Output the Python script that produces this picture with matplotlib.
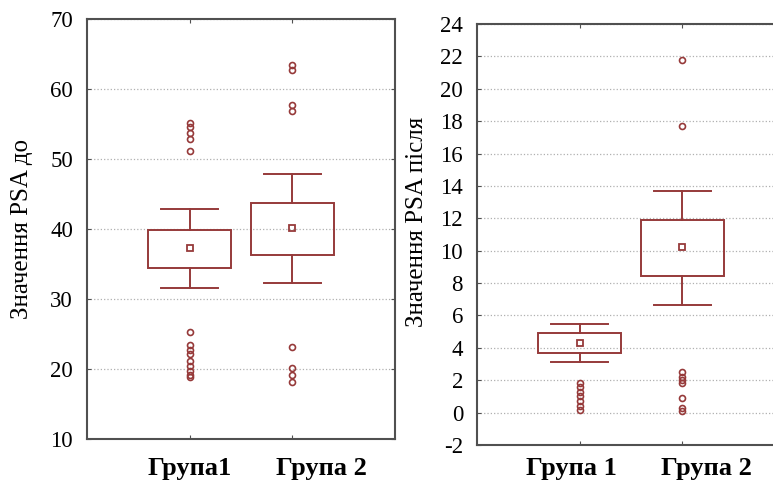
import matplotlib.pyplot as plt
import matplotlib.transforms as mtransforms

plt.rcParams['font.family'] = ['Liberation Serif', 'DejaVu Serif']

# Left panel: PSA before
groups_left = ["Група1", "Група 2"]
before_q1 = [34.4, 36.3]
before_q3 = [39.8, 43.7]
before_lo = [31.6, 32.3]
before_hi = [42.8, 47.8]
before_mean = [37.3, 40.2]
before_out = [
    [55.2, 54.6, 53.7, 52.9, 51.1, 25.3, 23.4, 22.7, 22.1, 21.2, 20.4, 19.7, 19.1, 18.9],
    [63.4, 62.7, 57.7, 56.9, 23.2, 20.1, 19.1, 18.2],
]

# Right panel: PSA after
groups_right = ["Група 1", "Група 2"]
after_q1 = [3.7, 8.45]
after_q3 = [4.9, 11.9]
after_lo = [3.1, 6.65]
after_hi = [5.5, 13.7]
after_mean = [4.3, 10.2]
after_out = [
    [1.85, 1.6, 1.3, 1.0, 0.7, 0.4, 0.15],
    [21.8, 17.7, 2.5, 2.2, 2.0, 1.8, 0.9, 0.3, 0.1],
]

box_color = "#963a3a"
spine_color = "#505050"


def draw_panel(ax, q1, q3, lo, hi, mean, outl, ylim, yticks, ylabel, label_pos,
               labels, label_x):
    pos = [1, 2]
    for i, p in enumerate(pos):
        ax.add_patch(plt.Rectangle((p - 0.405, q1[i]), 0.81, q3[i] - q1[i],
                                   fill=False, ec=box_color, lw=1.4, zorder=3))
        ax.plot([p, p], [hi[i], q3[i]], color=box_color, lw=1.4, zorder=3)
        ax.plot([p, p], [q1[i], lo[i]], color=box_color, lw=1.4, zorder=3)
        ax.plot([p - 0.28, p + 0.28], [hi[i], hi[i]], color=box_color, lw=1.4, zorder=3)
        ax.plot([p - 0.28, p + 0.28], [lo[i], lo[i]], color=box_color, lw=1.4, zorder=3)
        ax.plot([p], [mean[i]], marker='s', ms=5, mfc='none', mec=box_color, mew=1.3, zorder=4)
        ax.plot([p] * len(outl[i]), outl[i], 'o', ms=4.3, mfc='none', mec=box_color,
                mew=1.2, zorder=4)
    ax.set_xlim(0, 3)
    ax.set_ylim(*ylim)
    ax.set_yticks(yticks)
    ax.set_yticklabels([str(t) for t in yticks], fontsize=16.5)
    ax.set_xticks(pos)
    ax.set_xticklabels([])
    ax.tick_params(direction='in', length=3, color=spine_color, top=True, right=True)
    ax.tick_params(axis='y', pad=10)
    ax.grid(axis='y', color='#b0b0b0', linestyle=':', linewidth=0.9)
    for s in ax.spines.values():
        s.set_color(spine_color)
        s.set_linewidth(1.5)
    ax.set_ylabel(ylabel, fontsize=18)
    ax.yaxis.set_label_coords(*label_pos)
    trans = mtransforms.blended_transform_factory(ax.transData, fig.transFigure)
    for lab, x in zip(labels, label_x):
        ax.text(x, 1 - 475 / 483, lab, transform=trans, ha='center', va='baseline',
                fontsize=19, fontweight='bold')


fig = plt.figure(figsize=(7.73, 4.83), dpi=100)
W, H = 773, 483
ax1 = fig.add_axes([87 / W, 1 - 439 / H, 308 / W, 420 / H])
ax2 = fig.add_axes([477 / W, 1 - 445 / H, 308 / W, 421 / H])

draw_panel(ax1, before_q1, before_q3, before_lo, before_hi, before_mean, before_out,
           (10, 70), list(range(10, 71, 10)), "Значення PSA до", (-0.176, 0.5),
           groups_left, [1.0, 2.28])
draw_panel(ax2, after_q1, after_q3, after_lo, after_hi, after_mean, after_out,
           (-2, 24), list(range(-2, 25, 2)), "Значення PSA після", (-0.16, 0.531),
           groups_right, [0.92, 2.23])

fig.savefig("out.png", dpi=100)
